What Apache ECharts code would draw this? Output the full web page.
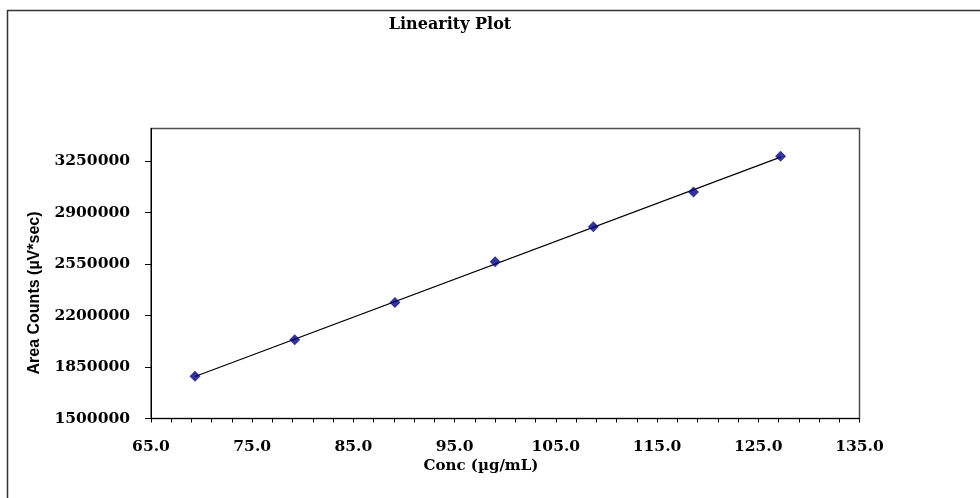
<!DOCTYPE html>
<html>
<head>
<meta charset="utf-8">
<style>
html,body{margin:0;padding:0;background:#fff;}
#chart{width:980px;height:498px;}
</style>
<script src="https://cdn.jsdelivr.net/npm/echarts@6/dist/echarts.min.js"></script>
</head>
<body>
<div id="chart"></div>
<script>
// ---- data ----
var concValues = [69.35, 79.2, 89.1, 99.0, 108.7, 118.6, 127.2];
var areaValues = [1786600, 2035200, 2287900, 2565600, 2802700, 3039800, 3281600];
var xTickLabels = [65, 75, 85, 95, 105, 115, 125, 135];
var xMinorTicks = [65, 67, 69, 71, 73, 75, 77, 79, 81, 83, 85, 87, 89, 91, 93, 95, 97, 99, 101, 103, 105, 107, 109, 111, 113, 115, 117, 119, 121, 123, 125, 127, 129, 131, 133, 135];
var yTickLabels = [1500000, 1850000, 2200000, 2550000, 2900000, 3250000];
var titleText = 'Linearity Plot';
var xName = 'Conc (\u00b5g/mL)';
var yName = 'Area Counts (\u00b5V*sec)';

// least-squares trendline from the data
var n = concValues.length, sx = 0, sy = 0, sxx = 0, sxy = 0;
for (var i = 0; i < n; i++) {
  sx += concValues[i]; sy += areaValues[i];
  sxx += concValues[i] * concValues[i]; sxy += concValues[i] * areaValues[i];
}
var slope = (n * sxy - sx * sy) / (n * sxx - sx * sx);
var intercept = (sy - slope * sx) / n;
var xFirst = Math.min.apply(null, concValues), xLast = Math.max.apply(null, concValues);
var trend = [[xFirst, slope * xFirst + intercept], [xLast, slope * xLast + intercept]];

var points = concValues.map(function (c, k) { return [c, areaValues[k]]; });

var labelFont = { fontFamily: 'DejaVu Serif', fontWeight: 'bold', fontSize: 15.5, color: '#000' };

var chart = echarts.init(document.getElementById('chart'), null, { renderer: 'canvas' });
chart.setOption({
  animation: false,
  backgroundColor: '#fff',
  grid: {
    left: 151, top: 128.5, right: 120.5, bottom: 79.5,
    containLabel: false,
    show: true, borderColor: '#4d4d4d', borderWidth: 1.5, backgroundColor: '#fff'
  },
  xAxis: {
    type: 'value', min: 65, max: 135,
    axisLine: { show: true, onZero: false, lineStyle: { color: '#000', width: 1 } },
    axisTick: { show: true, customValues: xMinorTicks, length: 4, lineStyle: { color: '#000' } },
    axisLabel: Object.assign({ customValues: xTickLabels, margin: 20, formatter: function (v) { return v.toFixed(1); } }, labelFont),
    splitLine: { show: false }
  },
  yAxis: {
    type: 'value', min: 1500000, max: 3471000,
    axisLine: { show: true, onZero: false, lineStyle: { color: '#000', width: 1 } },
    axisTick: { show: true, customValues: yTickLabels, length: 6, lineStyle: { color: '#000' } },
    axisLabel: Object.assign({ customValues: yTickLabels, margin: 21, formatter: function (v) { return String(v); } }, labelFont),
    splitLine: { show: false }
  },
  series: [
    {
      type: 'line', data: trend, symbol: 'none', silent: true,
      lineStyle: { color: '#000', width: 1.2 }, z: 2
    },
    {
      type: 'scatter', data: points, symbol: 'diamond', symbolSize: 11,
      itemStyle: { color: '#000080' }, z: 3
    }
  ],
  graphic: [
    { type: 'line', shape: { x1: 7.5, y1: 10, x2: 7.5, y2: 498 }, style: { stroke: '#333', lineWidth: 1.5 } },
    { type: 'line', shape: { x1: 7, y1: 10.5, x2: 980, y2: 10.5 }, style: { stroke: '#333', lineWidth: 1.5 } },
    { type: 'text', x: 450, y: 25, style: { text: titleText, font: 'bold 16px "DejaVu Serif"', fill: '#000', align: 'center', verticalAlign: 'middle' } },
    { type: 'text', x: 481, y: 466, style: { text: xName, font: 'bold 15px "DejaVu Serif"', fill: '#000', align: 'center', verticalAlign: 'middle' } },
    { type: 'text', x: 35, y: 293, rotation: Math.PI / 2, style: { text: yName, font: 'bold 16px "Liberation Sans"', fill: '#000', align: 'center', verticalAlign: 'middle' } }
  ]
});
</script>
</body>
</html>
